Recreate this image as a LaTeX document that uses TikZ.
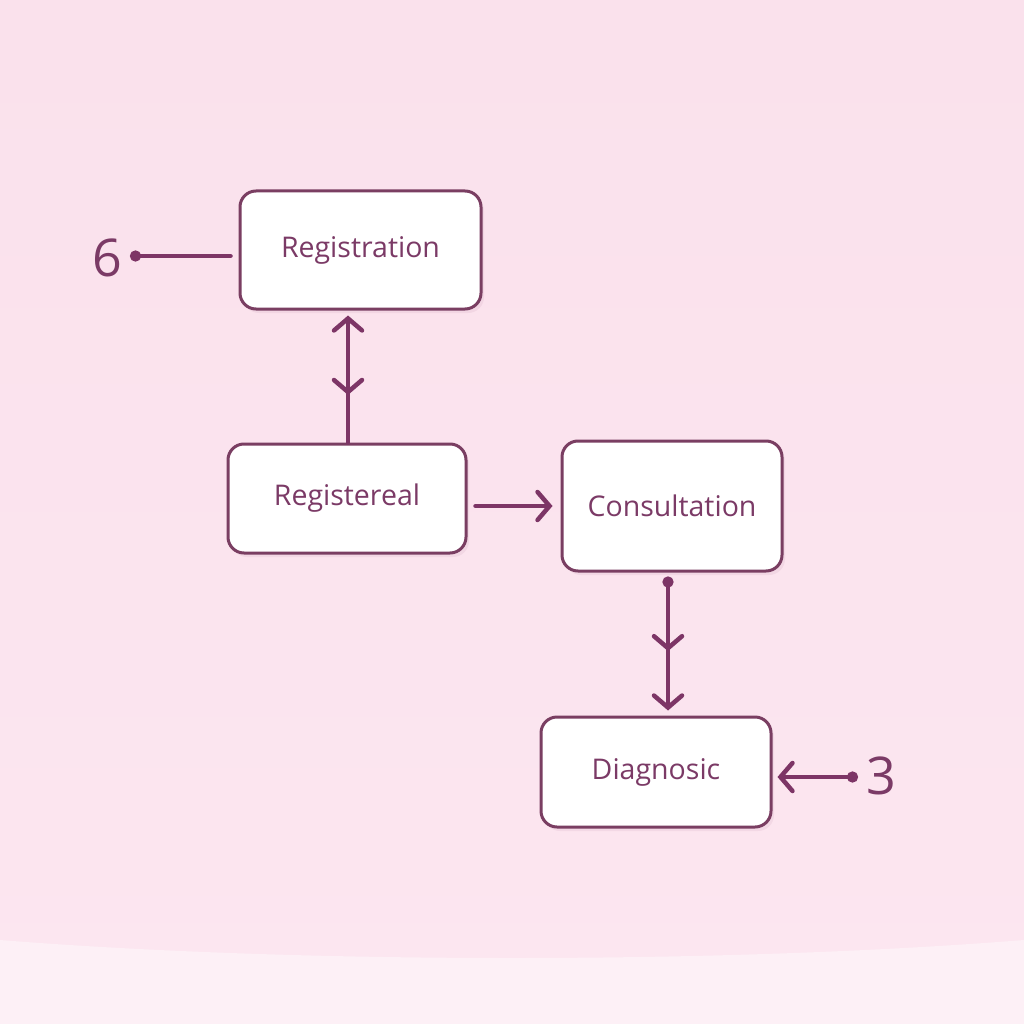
\documentclass[tikz,border=0pt]{standalone}
\usepackage{fontspec}
\setmainfont{Open Sans}
\usetikzlibrary{arrows.meta,decorations.markings,shadows}
\definecolor{plum}{HTML}{7D3566}
\definecolor{boxline}{HTML}{7A3E62}
\definecolor{txt}{HTML}{7B3A66}
\definecolor{bgtop}{HTML}{FAE1EC}
\definecolor{bgbot}{HTML}{FCE6F0}
\definecolor{band}{HTML}{FDF0F6}
\tikzset{
  stepbox/.style={draw=boxline, line width=3pt, rounded corners=16pt, fill=white,
    inner sep=0pt, text=txt, font=\fontsize{28.5}{32}\selectfont,
    drop shadow={shadow xshift=3pt, shadow yshift=-4pt, opacity=0.07, fill=plum}},
  conn/.style={draw=plum, line width=4.5pt, line cap=round, line join=round},
  barb/.style={-{Straight Barb[length=12pt,width=28pt,line cap=round]}},
  numlabel/.style={text=txt, inner sep=0pt, font=\fontsize{52}{56}\selectfont},
  midarrow/.style={postaction={decorate}, decoration={markings,
    mark=at position #1 with {\arrowreversed{Straight Barb[length=12pt,width=28pt,line cap=round]}}}},
  midarrowfwd/.style={postaction={decorate}, decoration={markings,
    mark=at position #1 with {\arrow{Straight Barb[length=12pt,width=28pt,line cap=round]}}}}
}
\begin{document}
\begin{tikzpicture}[x=1pt,y=-1pt]
\useasboundingbox (0,0) rectangle (1024,1024);
\shade[top color=bgtop, bottom color=bgbot] (0,0) rectangle (1024,1024);
\fill[band] (0,940) .. controls (300,964) and (724,964) .. (1024,940) -- (1024,1024) -- (0,1024) -- cycle;

\node[stepbox, minimum width=241pt, minimum height=118pt] (reg) at (360.5,250) {Registration};
\node[stepbox, minimum width=238pt, minimum height=109pt] (regd) at (347,498.5) {Registereal};
\node[stepbox, minimum width=220pt, minimum height=130pt] (cons) at (672,506) {Consultation};
\node[stepbox, minimum width=230pt, minimum height=110pt] (diag) at (656,772) {Diagnosic};

\node[numlabel] (n6) at (107,258) {6};
\coordinate (c6) at (130,256);
\node[numlabel] (n3) at (881,776) {3};
\coordinate (c3) at (858,777);
\coordinate (rx) at (348,0);
\coordinate (cx) at (668,0);

\draw[conn, -{Circle[length=11pt]}, shorten <=8pt] (reg.west |- c6) -- (c6);
\draw[conn, barb, shorten >=5pt, midarrow=0.36] (regd.north -| rx) -- (reg.south -| rx);
\draw[conn, barb, shorten <=8pt, shorten >=8pt] (regd.east |- cons.west) -- (cons.west);
\draw[conn, {Circle[length=11pt]}-{Straight Barb[length=12pt,width=28pt,line cap=round]}, shorten <=4pt, shorten >=5pt, midarrowfwd=0.55] (cons.south -| cx) -- (diag.north -| cx);
\draw[conn, {Circle[length=11pt]}-{Straight Barb[length=12pt,width=28pt,line cap=round]}, shorten >=5pt] (c3) -- (diag.east |- c3);
\end{tikzpicture}
\end{document}
